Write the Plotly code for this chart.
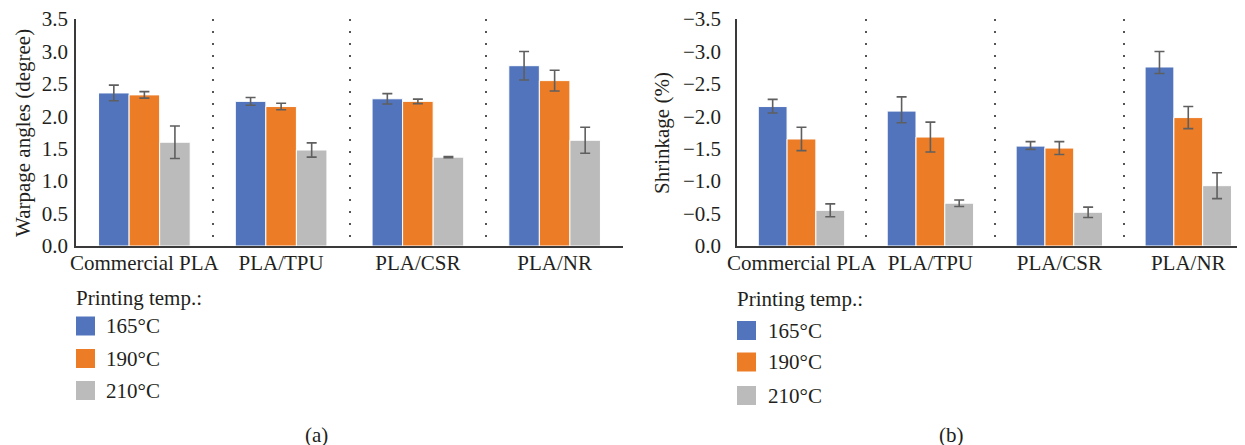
import plotly.graph_objects as go

categories = ["Commercial PLA", "PLA/TPU", "PLA/CSR", "PLA/NR"]
temps = ["165°C", "190°C", "210°C"]
colors = ["#5174BC", "#EC7C25", "#BBBBBB"]

# (a) Warpage angles (degree)
warp_165 = [2.36, 2.23, 2.27, 2.78]
warp_165_err = [0.12, 0.06, 0.08, 0.22]
warp_190 = [2.33, 2.15, 2.23, 2.55]
warp_190_err = [0.05, 0.05, 0.035, 0.16]
warp_210 = [1.60, 1.48, 1.37, 1.63]
warp_210_err = [0.25, 0.11, 0.01, 0.20]

# (b) Shrinkage (%)
shr_165 = [-2.15, -2.08, -1.54, -2.76]
shr_165_err_up = [0.10, 0.18, 0.05, 0.10]
shr_165_err_down = [0.11, 0.22, 0.07, 0.24]
shr_190 = [-1.65, -1.68, -1.51, -1.98]
shr_190_err = [0.18, 0.23, 0.10, 0.17]
shr_210 = [-0.55, -0.66, -0.52, -0.93]
shr_210_err = [0.10, 0.05, 0.08, 0.20]

FONT = "Liberation Serif"
FS = 21
TXT = "#231F20"
ERRC = "#5F5F5F"
W, H = 1245, 445
OX, OY = 8, 8  # page body margin offset


def px(x):
    return (x - OX) / W


def py(y):
    return 1 - (y - OY) / H


fig = go.Figure()

warp_vals = [warp_165, warp_190, warp_210]
warp_errs = [warp_165_err, warp_190_err, warp_210_err]
for t, c, v, e in zip(temps, colors, warp_vals, warp_errs):
    fig.add_trace(go.Bar(
        x=categories, y=v, name=t, marker=dict(color=c, line=dict(color="white", width=1)),
        error_y=dict(type="data", array=e, color=ERRC, thickness=1.6, width=5),
        xaxis="x", yaxis="y", showlegend=False))

shr_vals = [shr_165, shr_190, shr_210]
shr_plus = [shr_165_err_up, shr_190_err, shr_210_err]
shr_minus = [shr_165_err_down, shr_190_err, shr_210_err]
for t, c, v, ep, em in zip(temps, colors, shr_vals, shr_plus, shr_minus):
    fig.add_trace(go.Bar(
        x=categories, y=v, name=t, marker=dict(color=c, line=dict(color="white", width=1)),
        error_y=dict(type="data", array=ep, arrayminus=em, symmetric=False,
                     color=ERRC, thickness=1.6, width=5),
        xaxis="x2", yaxis="y2", showlegend=False))

ytop = py(19)
ybot = py(246)

common_x = dict(type="category", showline=True, linecolor="#3A3A3A", linewidth=2,
                ticks="", tickson="boundaries", showgrid=True, gridcolor="#555555",
                gridwidth=1.5, griddash="2px,10px", zeroline=False, tickangle=0,
                automargin=False, ticklabeloverflow="allow",
                tickfont=dict(family=FONT, size=FS, color=TXT), ticklabelstandoff=-3)
common_y = dict(showline=True, linecolor="#3A3A3A", linewidth=1.5, ticks="",
                showgrid=False, zeroline=False, dtick=0.5, tickformat=".1f",
                automargin=False, ticklabeloverflow="allow",
                tickfont=dict(family=FONT, size=FS, color=TXT))

fig.update_layout(
    width=W, height=H, margin=dict(l=0, r=0, t=0, b=0, autoexpand=False),
    paper_bgcolor="white", plot_bgcolor="white",
    barmode="group", bargap=0.33, bargroupgap=0,
    xaxis=dict(domain=[px(76), px(623)], range=[-0.5, 3.5], anchor="y", **common_x),
    yaxis=dict(domain=[ybot, ytop], range=[0, 3.5], anchor="x", ticklabelstandoff=2, **common_y),
    xaxis2=dict(domain=[px(737), px(1245)], range=[-0.5, 3.44], anchor="y2", **common_x),
    yaxis2=dict(domain=[ybot, ytop], range=[0, -3.5], anchor="x2", ticklabelstandoff=10, **common_y),
    font=dict(family=FONT, size=FS, color=TXT),
)

annotations = []
shapes = []


def note(text, x, y, xanchor="center", angle=0):
    annotations.append(dict(text=text, x=px(x), y=py(y), xref="paper", yref="paper",
                            xanchor=xanchor, yanchor="middle", textangle=angle, showarrow=False,
                            font=dict(family=FONT, size=FS, color=TXT)))


# y-axis titles
note("Warpage angles (degree)", 23, 133, angle=-90)
note("Shrinkage (%)", 662, 133, angle=-90)


# manual legends
def legend(x_sw, y_title, y_items, x_text):
    note("Printing temp.:", x_sw - 2, y_title, xanchor="left")
    for t, c, yc in zip(temps, colors, y_items):
        shapes.append(dict(type="rect", xref="paper", yref="paper", x0=px(x_sw), x1=px(x_sw + 19),
                           y0=py(yc + 9.5), y1=py(yc - 9.5), fillcolor=c, line=dict(width=0)))
        note(t, x_text, yc, xanchor="left")


legend(76, 298, [326, 358.5, 390.5], 104)
legend(737, 299, [330.5, 362, 395.5], 766)

note("(a)", 316, 435)
note("(b)", 951, 435)

fig.update_layout(annotations=annotations, shapes=shapes)
fig.write_html("out.html")
